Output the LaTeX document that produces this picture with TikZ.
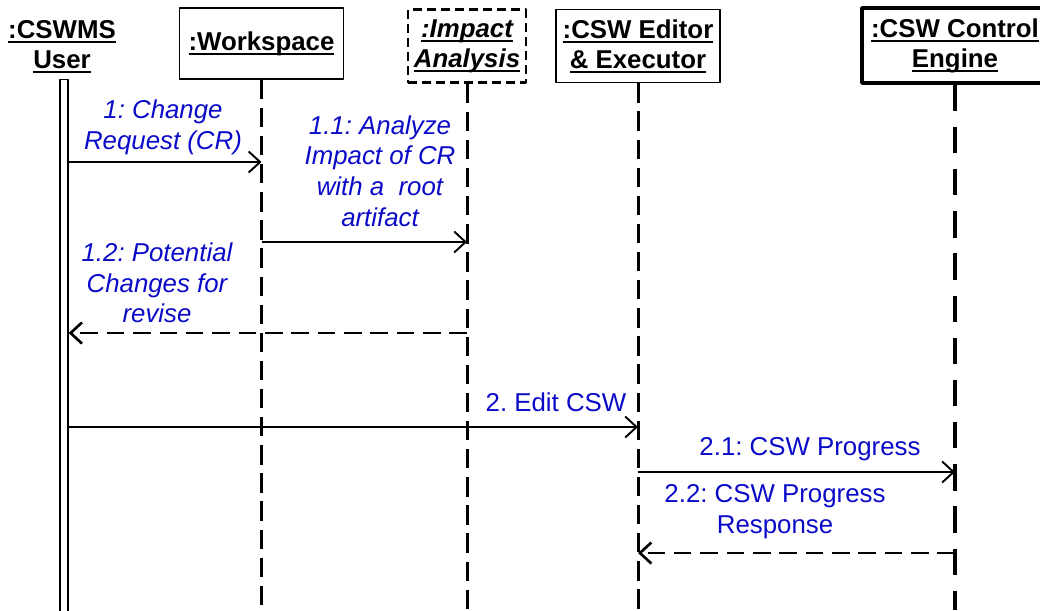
\documentclass[tikz,border=0pt]{standalone}
\usepackage{fontspec}
\setmainfont{Liberation Sans}
\frenchspacing
\newsavebox\ulbox
\newcommand\ulin[1]{\sbox\ulbox{#1}\rlap{\usebox\ulbox}\rule[-2.6pt]{\wd\ulbox}{1.1pt}}
\usetikzlibrary{arrows.meta}
\definecolor{msgblue}{RGB}{10,10,200}
\tikzset{
  hdr/.style={font=\bfseries\fontsize{14.7}{17}\selectfont, align=center, inner sep=0pt},
  obj/.style={hdr, draw, line width=0.9pt, minimum width=3.28cm, minimum height=1.46cm},
  life/.style={line width=1.7pt, dash pattern=on 11pt off 5pt},
  msg/.style={line width=1.1pt, -{Straight Barb[length=6.5pt,width=12pt]}},
  reply/.style={msg, line width=1.5pt, dash pattern=on 10pt off 5pt},
  lbl/.style={font=\itshape\fontsize{14.7}{17.5}\selectfont, text=msgblue, align=center, inner sep=0pt}
}
\begin{document}
\begin{tikzpicture}[x=0.02cm,y=-0.02cm,line join=round]
  \useasboundingbox (0,0) rectangle (1040,610);
  % objects
  \node[hdr] (user) at (62,47) {\ulin{:CSWMS}\\\ulin{User}};
  \node[draw, line width=0.7pt, minimum width=0.16cm, minimum height=10.8cm, anchor=north, inner sep=0pt] (ubar) at (64,79) {};
  \node[obj, minimum height=1.42cm] (ws) at (261.5,43.5) {\ulin{:Workspace}};
  \node[obj, dashed, line width=1.3pt, dash pattern=on 5pt off 3pt, minimum width=2.36cm, font=\bfseries\itshape\fontsize{14.7}{17}\selectfont] (ia) at (467,46) {\ulin{:Impact}\\\ulin{Analysis}};
  \node[obj] (ed) at (638,46) {\ulin{:CSW Editor}\\\ulin{\& Executor}};
  \node[obj, line width=2pt, minimum width=3.72cm, minimum height=1.5cm] (ce) at (955,45.5) {\ulin{:CSW Control}\\\ulin{Engine}};
  % lifelines
  \coordinate (bot) at (0,610);
  \draw[life] (ws.south) -- (ws |- bot);
  \draw[life] (ia.south) -- (ia |- bot);
  \draw[life] (ed.south) -- (ed |- bot);
  \draw[life, line width=2.4pt, dash pattern=on 15pt off 9pt] (ce.south) -- (ce |- bot);
  % message levels
  \coordinate (y1) at (0,162);
  \coordinate (y11) at (0,242);
  \coordinate (y12) at (0,333);
  \coordinate (y2) at (0,427);
  \coordinate (y21) at (0,472);
  \coordinate (y22) at (0,553);
  % messages
  \draw[msg] (ubar.east |- y1) -- (ws |- y1);
  \draw[msg] (ws |- y11) -- (ia |- y11);
  \draw[reply] (ia |- y12) -- (ubar.east |- y12);
  \draw[msg] (ubar.east |- y2) -- (ed |- y2);
  \draw[msg] (ed |- y21) -- (ce |- y21);
  \draw[reply] (ce |- y22) -- (ed |- y22);
  % labels
  \node[lbl] (l1) at (163,127) {1: Change\\Request (CR)};
  \node[lbl] (l11) at (380,171) {1.1: Analyze\\Impact of CR\\with a~~root\\artifact};
  \node[lbl] (l12) at (157,283) {1.2: Potential\\Changes for\\revise};
  \node[lbl, font=\fontsize{14.7}{17.5}\selectfont] (l2) at (556,402) {2. Edit CSW};
  \node[lbl, font=\fontsize{14.7}{17.5}\selectfont] (l21) at (810,449) {2.1: CSW Progress};
  \node[lbl, font=\fontsize{14.7}{17.5}\selectfont] (l22) at (775,512) {2.2: CSW Progress\\Response};
\end{tikzpicture}
\end{document}
